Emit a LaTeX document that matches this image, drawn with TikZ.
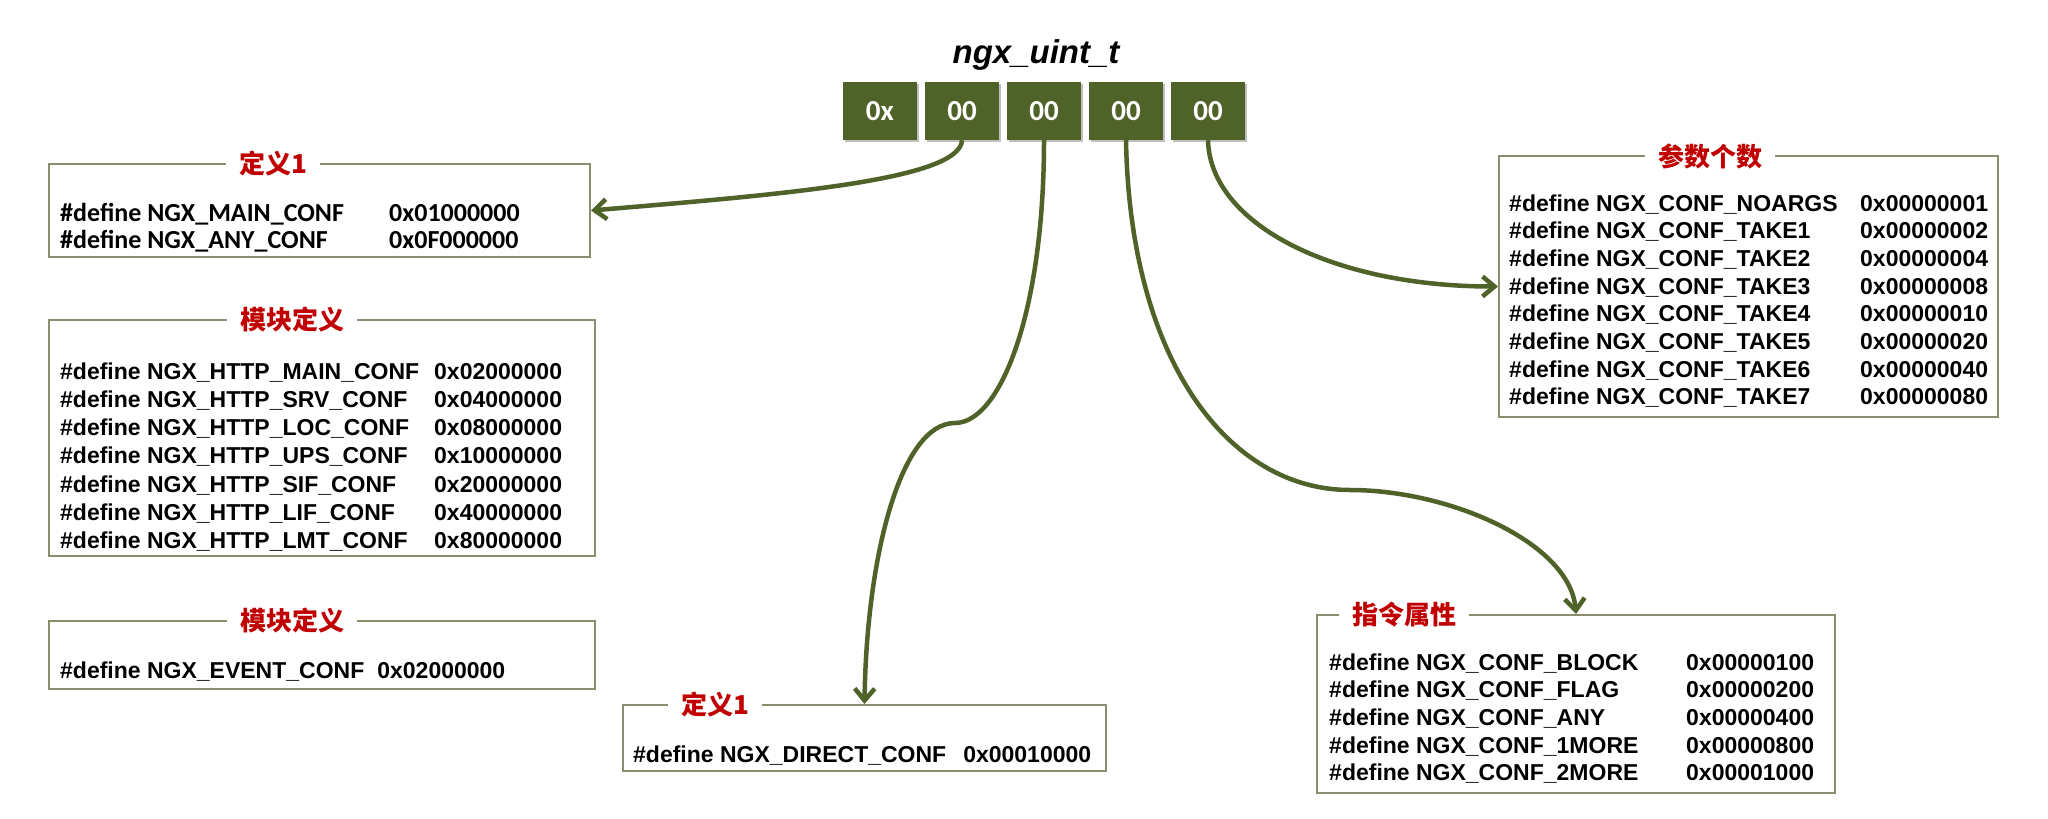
\documentclass[tikz,border=0pt]{standalone}
\usepackage{fontspec}
\setmainfont{Liberation Sans}
\newfontfamily\cjk{Noto Sans CJK SC}
\newfontfamily\calib{Carlito}
\usetikzlibrary{arrows.meta,shadows}
\definecolor{boxgreen}{RGB}{79,98,40}
\definecolor{bordergray}{RGB}{138,142,108}
\definecolor{titlered}{RGB}{192,0,0}
\begin{document}
\begin{tikzpicture}[x=1pt,y=-1pt,
  hexbox/.style={fill=boxgreen, minimum width=74pt, minimum height=58pt, inner sep=0pt, text=white,
    font=\calib\bfseries\fontsize{29}{30}\selectfont,
    drop shadow={opacity=0.25,shadow xshift=2pt,shadow yshift=-2pt,fill=black}},
  defbox/.style={draw=bordergray, line width=2pt, inner sep=0pt},
  boxtitle/.style={fill=white, text=titlered, inner xsep=13pt, inner ysep=0pt,
    font=\cjk\bfseries\fontsize{26}{30}\selectfont},
  deftext/.style={inner sep=0pt, anchor=base west, align=left},
  arial/.style={font=\bfseries\fontsize{23}{#1}\selectfont},
  link/.style={draw=boxgreen, line width=4.5pt, -{Straight Barb[length=12pt,width=20pt]}}
]
\fill[white] (0,0) rectangle (2048,819);
\useasboundingbox (0,0) rectangle (2048,819);

% title and hex boxes
\node[font=\bfseries\itshape\fontsize{33}{36}\selectfont] (title) at (1036,55) {ngx\_uint\_t};
\node[hexbox] (b1) at (880,111) {0x};
\node[hexbox] (b2) at (962,111) {00};
\node[hexbox] (b3) at (1044,111) {00};
\node[hexbox] (b4) at (1126,111) {00};
\node[hexbox] (b5) at (1208,111) {00};

% definition boxes
\node[defbox, minimum width=541pt, minimum height=93pt] (d1) at (319.5,210.5) {};
\node[defbox, minimum width=546pt, minimum height=236pt] (d2) at (322,438) {};
\node[defbox, minimum width=546pt, minimum height=68pt] (d3) at (322,655) {};
\node[defbox, minimum width=483pt, minimum height=66pt] (d4) at (864.5,738) {};
\node[defbox, minimum width=499pt, minimum height=261pt] (d5) at (1748.5,286.5) {};
\node[defbox, minimum width=518pt, minimum height=178pt] (d6) at (1576,704) {};

% box titles
\node[boxtitle] (t1) at (273,164) {定义1};
\node[boxtitle] (t2) at (292,320) {模块定义};
\node[boxtitle] (t3) at (292,621) {模块定义};
\node[boxtitle] (t4) at (715,705) {定义1};
\node[boxtitle] (t5) at (1710,156) {参数个数};
\node[boxtitle] (t6) at (1404,615) {指令属性};

% box contents
\node[deftext, font=\calib\bfseries\fontsize{26}{27}\selectfont] (c1) at (60,221) {%
\begin{tabular}[t]{@{}l@{}}
\makebox[329pt][l]{\#define NGX\_MAIN\_CONF}0x01000000\\
\makebox[329pt][l]{\#define NGX\_ANY\_CONF}0x0F000000
\end{tabular}};

\node[deftext, arial=28.3] (c2) at (60,379) {%
\begin{tabular}[t]{@{}l@{}}
\makebox[374pt][l]{\#define NGX\_HTTP\_MAIN\_CONF}0x02000000\\
\makebox[374pt][l]{\#define NGX\_HTTP\_SRV\_CONF}0x04000000\\
\makebox[374pt][l]{\#define NGX\_HTTP\_LOC\_CONF}0x08000000\\
\makebox[374pt][l]{\#define NGX\_HTTP\_UPS\_CONF}0x10000000\\
\makebox[374pt][l]{\#define NGX\_HTTP\_SIF\_CONF}0x20000000\\
\makebox[374pt][l]{\#define NGX\_HTTP\_LIF\_CONF}0x40000000\\
\makebox[374pt][l]{\#define NGX\_HTTP\_LMT\_CONF}0x80000000
\end{tabular}};

\node[deftext, arial=28] (c3) at (60,678) {\#define NGX\_EVENT\_CONF\hspace{13pt}0x02000000};

\node[deftext, arial=28] (c4) at (633,762) {\#define NGX\_DIRECT\_CONF\hspace{17pt}0x00010000};

\node[deftext, arial=27.7] (c5) at (1509,211) {%
\begin{tabular}[t]{@{}l@{}}
\makebox[351pt][l]{\#define NGX\_CONF\_NOARGS}0x00000001\\
\makebox[351pt][l]{\#define NGX\_CONF\_TAKE1}0x00000002\\
\makebox[351pt][l]{\#define NGX\_CONF\_TAKE2}0x00000004\\
\makebox[351pt][l]{\#define NGX\_CONF\_TAKE3}0x00000008\\
\makebox[351pt][l]{\#define NGX\_CONF\_TAKE4}0x00000010\\
\makebox[351pt][l]{\#define NGX\_CONF\_TAKE5}0x00000020\\
\makebox[351pt][l]{\#define NGX\_CONF\_TAKE6}0x00000040\\
\makebox[351pt][l]{\#define NGX\_CONF\_TAKE7}0x00000080
\end{tabular}};

\node[deftext, arial=27.7] (c6) at (1329,670) {%
\begin{tabular}[t]{@{}l@{}}
\makebox[357pt][l]{\#define NGX\_CONF\_BLOCK}0x00000100\\
\makebox[357pt][l]{\#define NGX\_CONF\_FLAG}0x00000200\\
\makebox[357pt][l]{\#define NGX\_CONF\_ANY}0x00000400\\
\makebox[357pt][l]{\#define NGX\_CONF\_1MORE}0x00000800\\
\makebox[357pt][l]{\#define NGX\_CONF\_2MORE}0x00001000
\end{tabular}};

% connectors
\coordinate (k1) at (955,423);
\coordinate (k2) at (1350,490);
\draw[link] (b2.south) .. controls +(-2,40) and +(190,-16) .. (d1.east);
\draw[link] (b3.south) .. controls +(0,173) and +(45,0) .. (k1)
                       .. controls +(-55,0) and +(2,-145) .. (d4.north);
\draw[link] (b4.south) .. controls +(4,223) and +(-120,0) .. (k2)
                       .. controls +(100,0) and +(-6,-71) .. (d6.north);
\draw[link] (b5.south) .. controls +(2,83) and +(-167,0) .. (d5.west);
\end{tikzpicture}
\end{document}
